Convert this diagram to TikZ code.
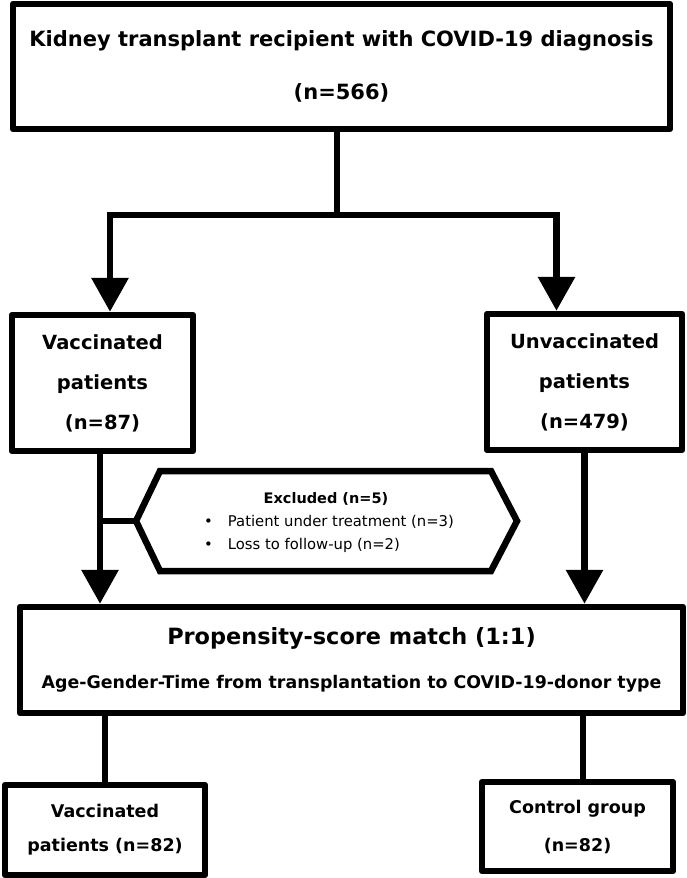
\documentclass[tikz,border=0pt]{standalone}
\usepackage{fontspec}
\setmainfont{DejaVu Sans}
\usetikzlibrary{arrows.meta}

\begin{document}
\begin{tikzpicture}[x=1pt, y=-1pt,
    box/.style={draw, line width=6.5pt, line join=round, align=center, inner sep=0pt},
    link/.style={line width=6.5pt},
    arrow/.style={link, -{Triangle[length=34pt,width=36pt]}}]
    \useasboundingbox (0,0) rectangle (686,878);

    %% boxes
    \node[box, minimum width=657pt, minimum height=125pt, font=\bfseries\fontsize{21}{53}\selectfont]
        (diag) at (341.5,66.5) {Kidney transplant recipient with COVID-19 diagnosis\\(n=566)};
    \node[box, minimum width=181pt, minimum height=136pt, font=\bfseries\fontsize{19.5}{40}\selectfont]
        (vacc) at (102.5,383) {Vaccinated\\patients\\(n=87)};
    \node[box, minimum width=195pt, minimum height=136pt, font=\bfseries\fontsize{19.5}{40}\selectfont]
        (unvacc) at (584.5,382) {Unvaccinated\\patients\\(n=479)};
    \node[box, minimum width=663pt, minimum height=106pt, font=\bfseries\fontsize{17.4}{44}\selectfont]
        (psm) at (351.5,660) {{\fontsize{22.4}{44}\selectfont Propensity-score match (1:1)}\\Age-Gender-Time from transplantation to COVID-19-donor type};
    \node[box, minimum width=200pt, minimum height=90pt, font=\bfseries\fontsize{17.5}{34}\selectfont]
        (vaccm) at (105,830) {Vaccinated\\patients (n=82)};
    \node[box, minimum width=191pt, minimum height=89pt, font=\bfseries\fontsize{17.5}{38}\selectfont]
        (ctrl) at (577.5,826.5) {Control group\\(n=82)};

    %% excluded
    \draw[link] (136,521) -- (160,471) -- (491,471) -- (517,521) -- (491,571) -- (160,571) -- cycle;
    \coordinate (excltip) at (136,521);
    \node[font=\bfseries\fontsize{14.5}{16}\selectfont] (exclt) at (326,499) {Excluded (n=5)};
    \node[anchor=west, align=left, inner sep=0pt, font=\fontsize{14.8}{23}\selectfont]
        (excli) at (204,534) {•\hspace{15pt}Patient under treatment (n=3)\\•\hspace{15pt}Loss to follow-up (n=2)};

    %% connectors
    \coordinate (split) at (337,215);
    \coordinate (vline) at ([xshift=-2.5pt]vacc.south);
    \draw[link] (split |- diag.south) -- (split);
    \draw[arrow] (split) -| ([xshift=7.5pt]vacc.north);
    \draw[arrow] (split) -| ([xshift=-28pt]unvacc.north);
    \draw[arrow] (vline) -- (vline |- psm.north);
    \draw[arrow] (unvacc.south) -- (unvacc.south |- psm.north);
    \draw[link] (vline |- excltip) -- (excltip);
    \draw[link] (vaccm.north |- psm.south) -- (vaccm.north);
    \draw[link] ([xshift=5.5pt]ctrl.north |- psm.south) -- ([xshift=5.5pt]ctrl.north);
\end{tikzpicture}
\end{document}
